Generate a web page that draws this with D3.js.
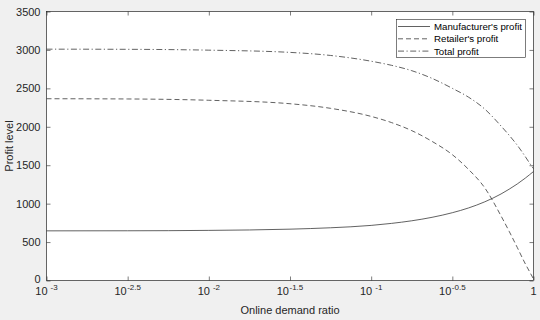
<!DOCTYPE html>
<html><head><meta charset="utf-8">
<script src="https://cdn.jsdelivr.net/npm/d3@7"></script>
<style>
html,body{margin:0;padding:0;background:#f0f0f0;}
svg{display:block;font-family:"Liberation Sans",Arial,Helvetica,sans-serif;}
</style></head>
<body>
<svg id="chart" width="540" height="320"></svg>
<script>
// ---- data ----
const xExponents = [-3, -2.5, -2, -1.5, -1.25, -1, -0.875, -0.75, -0.625, -0.5, -0.4, -0.3, -0.2, -0.15, -0.1, -0.05, -0.025, 0];
const manufacturerProfit = [646, 647, 652, 668, 686, 717, 743, 777, 822, 882, 944, 1024, 1126, 1188, 1256, 1333, 1375, 1418];
const retailerProfit = [2365, 2362, 2345, 2300, 2240, 2135, 2055, 1950, 1810, 1637, 1445, 1205, 840, 640, 430, 215, 118, 20];
const totalProfit = [3010, 3008, 2997, 2968, 2928, 2853, 2800, 2730, 2630, 2500, 2385, 2230, 2010, 1890, 1760, 1610, 1530, 1455];
const seriesNames = ["Manufacturer's profit", "Retailer's profit", "Total profit"];
const yTicks = [0, 500, 1000, 1500, 2000, 2500, 3000, 3500];
const xTickExponents = [-3, -2.5, -2, -1.5, -1, -0.5, 0];
const xTickLabels = [["10","-3"],["10","-2.5"],["10","-2"],["10","-1.5"],["10","-1"],["10","-0.5"],["1",""]];
const xTitle = "Online demand ratio";
const yTitle = "Profit level";

// ---- layout ----
const L = 46.5, R = 533.5, T = 11.5, B = 280.5;
const svg = d3.select("#chart");
const ink = "#262626";

svg.append("rect").attr("x",L).attr("y",T).attr("width",R-L).attr("height",B-T).attr("fill","#fff");

const x = d3.scaleLog().domain([1e-3, 1]).range([L, R]);
const y = d3.scaleLinear().domain([0, 3500]).range([B, T]);

const tickVals = xTickExponents.map(e => Math.pow(10, e));

// x axis bottom ticks
const gx = svg.append("g").attr("transform",`translate(0,${B})`)
  .call(d3.axisBottom(x).tickValues(tickVals).tickSizeInner(-4).tickSizeOuter(0).tickFormat(""));
gx.select(".domain").remove();
gx.selectAll("line").attr("stroke",ink).attr("stroke-width",0.6);
// x top ticks
const gxt = svg.append("g").attr("transform",`translate(0,${T})`)
  .call(d3.axisTop(x).tickValues(tickVals).tickSizeInner(-4).tickSizeOuter(0).tickFormat(""));
gxt.select(".domain").remove();
gxt.selectAll("line").attr("stroke",ink).attr("stroke-width",0.6);

// y axis left
const gy = svg.append("g").attr("transform",`translate(${L},0)`)
  .call(d3.axisLeft(y).tickValues(yTicks).tickSizeInner(-4).tickSizeOuter(0).tickPadding(6).tickFormat(d3.format("d")));
gy.select(".domain").remove();
gy.selectAll("line").attr("stroke",ink).attr("stroke-width",0.6);
gy.selectAll("text").attr("fill",ink).attr("font-size","11px").attr("font-family","Liberation Sans, Arial, sans-serif");
gy.selectAll("text").filter(d => d === 0).attr("y", -1.5);
// y right ticks
const gyr = svg.append("g").attr("transform",`translate(${R},0)`)
  .call(d3.axisRight(y).tickValues(yTicks).tickSizeInner(-4).tickSizeOuter(0).tickFormat(""));
gyr.select(".domain").remove();
gyr.selectAll("line").attr("stroke",ink).attr("stroke-width",0.6);

// x tick labels with superscripts
xTickLabels.forEach((lab, i) => {
  const px = x(tickVals[i]);
  const t = svg.append("text").attr("x", px).attr("y", 295).attr("text-anchor","middle")
    .attr("fill", ink).attr("font-size","11px");
  t.append("tspan").text(lab[0]);
  if (lab[1]) {
    const integer = !lab[1].includes(".");
    t.append("tspan").attr("font-size","8px").attr("dy",-5).attr("dx", integer ? 3 : 0.5).text(lab[1]);
  }
});

// box
svg.append("rect").attr("x",L).attr("y",T).attr("width",R-L).attr("height",B-T)
  .attr("fill","none").attr("stroke",ink).attr("stroke-width",0.7);

// titles
svg.append("text").attr("x",(L+R)/2).attr("y",313.5).attr("text-anchor","middle")
  .attr("fill",ink).attr("font-size","11px").text(xTitle);
svg.append("text").attr("transform",`translate(12.5,${(T+B)/2}) rotate(-90)`).attr("text-anchor","middle")
  .attr("fill",ink).attr("font-size","11px").text(yTitle);

// lines
const dashes = [null, "5,3", "6,2.5,1.2,2.5"];
const seriesData = [manufacturerProfit, retailerProfit, totalProfit];
const line = d3.line().x(d => x(d[0])).y(d => y(d[1])).curve(d3.curveMonotoneX);
const xs = xExponents.map(e => Math.pow(10, e));
seriesData.forEach((vals, i) => {
  svg.append("path").datum(xs.map((v, j) => [v, vals[j]]))
    .attr("d", line).attr("fill","none").attr("stroke","#3a3a3a").attr("stroke-width",0.8)
    .attr("stroke-dasharray", dashes[i]);
});

// legend
const lg = svg.append("g");
lg.append("rect").attr("x",396.5).attr("y",19.5).attr("width",129).attr("height",38)
  .attr("fill","#fff").attr("stroke",ink).attr("stroke-width",0.6);
seriesNames.forEach((n, i) => {
  const yy = 26.5 + i * 12.3;
  lg.append("line").attr("x1",398).attr("x2",430).attr("y1",yy).attr("y2",yy)
    .attr("stroke","#3a3a3a").attr("stroke-width",0.8).attr("stroke-dasharray",dashes[i]);
  lg.append("text").attr("x",434).attr("y",yy+3.5).attr("font-size","9.7px").attr("fill","#000").text(n);
});
</script>
</body></html>
